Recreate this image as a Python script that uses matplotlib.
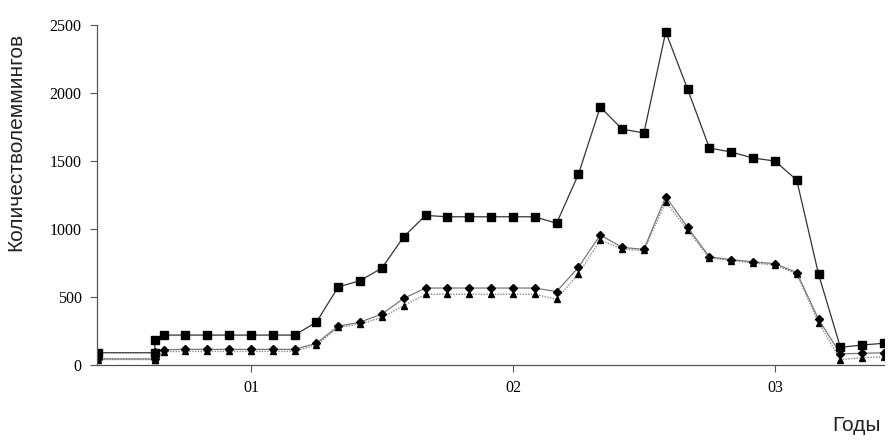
import matplotlib
matplotlib.use("Agg")
import matplotlib.pyplot as plt

# months counted from the start of 2001 (tick "01" = 0)
months = [-7, -4.4, -4.4, -4, -3, -2, -1, 0, 1, 2, 3, 4, 5, 6, 7, 8, 9, 10, 11, 12,
          13, 14, 15, 16, 17, 18, 19, 20, 21, 22, 23, 24, 25, 26, 27, 28, 29]

squares = [90, 90, 184, 220, 220, 220, 220, 220, 220, 220, 315, 574, 620, 713, 943,
           1100, 1090, 1090, 1090, 1090, 1090, 1042, 1402, 1897, 1735, 1706, 2449,
           2029, 1596, 1566, 1522, 1500, 1360, 667, 130, 147, 160]

diamonds = [45, 45, 95, 112, 115, 115, 115, 115, 115, 115, 160, 285, 315, 375, 490,
            566, 566, 566, 566, 566, 566, 540, 718, 956, 865, 850, 1238,
            1012, 795, 775, 758, 745, 680, 336, 82, 86, 90]

triangles = [40, 40, 40, 98, 100, 100, 100, 100, 100, 100, 147, 277, 301, 350, 436,
             520, 520, 520, 520, 520, 520, 483, 669, 919, 852, 842, 1200,
             993, 786, 768, 750, 735, 670, 311, 40, 54, 60]

year_ticks = [0, 12, 24]
year_labels = ["01", "02", "03"]

fig = plt.figure(figsize=(8.93, 4.42), dpi=100)
ax = fig.add_axes([0.1086, 0.1742, 0.8814, 0.7692])

ax.plot(months, triangles, color="#8a8a8a", lw=1.0, ls=(0, (1, 1)),
        marker="^", ms=5, mfc="black", mec="black")
ax.plot(months, diamonds, color="#777777", lw=0.9,
        marker="D", ms=4, mfc="black", mec="black")
ax.plot(months, squares, color="#333333", lw=0.9,
        marker="s", ms=6, mfc="black", mec="black")

ax.set_xlim(-7.05, 29)
ax.set_ylim(0, 2500)
ax.set_xticks(year_ticks)
ax.set_xticklabels(year_labels)
ax.set_yticks([0, 500, 1000, 1500, 2000, 2500])

for side in ["top", "right"]:
    ax.spines[side].set_visible(False)
for side in ["left", "bottom"]:
    ax.spines[side].set_color("#555555")
    ax.spines[side].set_linewidth(0.9)

ax.tick_params(direction="out", length=5, width=0.8, color="#555555",
               labelsize=11.5, pad=6)
for lab in ax.get_xticklabels() + ax.get_yticklabels():
    lab.set_family("Liberation Serif")

fig.text(0.018, 0.68, "Количестволеммингов", rotation=90, ha="center", va="center",
         family="Liberation Sans", fontsize=15, color="#222222")
fig.text(0.986, 0.038, "Годы", ha="right", va="center",
         family="Liberation Sans", fontsize=15, color="#222222")

fig.savefig("out.png", dpi=100)
